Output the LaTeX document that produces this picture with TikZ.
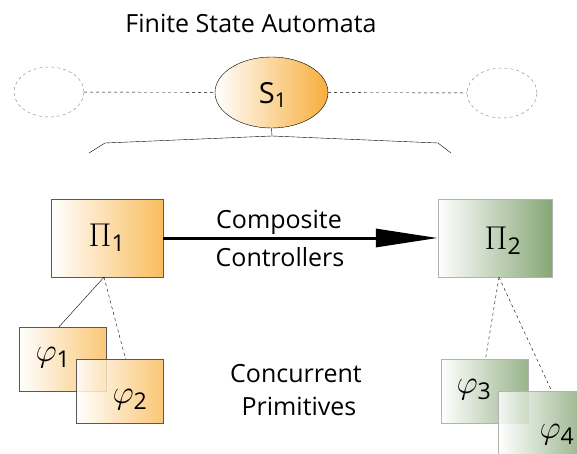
\documentclass[tikz,border=0pt]{standalone}
\usepackage{fix-cm}
\usepackage{fontspec}
\setmainfont{Open Sans}
\usetikzlibrary{arrows.meta,shapes.geometric,positioning}

\definecolor{fsaorange}{HTML}{F7AE3C}
\definecolor{boxorange}{HTML}{F9BD5E}
\definecolor{fsagreen}{HTML}{86A776}

\begin{document}
\begin{tikzpicture}[
  x=1pt, y=-1pt,
  font=\fontsize{25}{29}\selectfont,
  state/.style={draw, ellipse, thin, minimum width=113pt, minimum height=71pt, left color=white, right color=fsaorange},
  ghost/.style={draw=gray, dashed, ellipse, thin, minimum width=70pt, minimum height=50pt},
  ctrlorange/.style={draw=gray!70!black, thin, minimum width=112pt, minimum height=78pt, left color=white, right color=boxorange},
  ctrlgreen/.style={draw=gray!60, thin, minimum width=114pt, minimum height=78pt, left color=white, right color=fsagreen},
  primorange/.style={draw=gray!70!black, thin, minimum width=87pt, minimum height=64pt, left color=white, right color=boxorange, fill opacity=0.85},
  primgreen/.style={draw=gray!60, thin, minimum width=87pt, minimum height=64pt, left color=white, right color=fsagreen, fill opacity=0.85},
  sym/.style={font=\fontsize{29}{30}\selectfont},
  msym/.style={font=\fontsize{33}{34}\selectfont},
  word/.style={anchor=base},
  link/.style={thin},
  dlink/.style={thin, dashed}
]
\useasboundingbox (0,0) rectangle (577,454);

% automaton layer
\node[word] (title) at (251,33) {Finite State Automata};
\node[state] (s1) at (271.5,92.5) {};
\node[sym] (s1t) at (273,95) {S\textsubscript{1}};
\node[ghost] (sl) at (49,92) {};
\node[ghost] (sr) at (502,93) {};
\draw[dlink] (sl) -- (s1);
\draw[dlink] (s1) -- (sr);

% bracket under the state
\coordinate (bktop) at (272,136);
\draw[link] (s1.south) -- (bktop);
\draw[link] (89,153) -- (105,143) -- (bktop) -- (438,143) -- (451,153);

% composite controllers
\node[ctrlorange] (pi1) at (107,238) {};
\node[ctrlgreen] (pi2) at (495,238) {};
\node[msym] (pi1t) at (107,238) {$\Pi$\textsubscript{1}};
\node[msym] (pi2t) at (503,241) {$\Pi$\textsubscript{2}};
\draw[line width=3pt, -{Triangle[length=62pt,width=18pt]}] (pi1.east) -- (pi2.west);
\node[word] (comp) at (279,228) {Composite};
\node[word] (ctrl) at (280,266) {Controllers};

% concurrent primitives
\node[primorange] (ph1) at (63,359) {};
\node[primorange] (ph2) at (119.5,391) {};
\node[primgreen] (ph3) at (484.5,391) {};
\node[primgreen] (ph4) at (541.5,423) {};
\node[msym] (ph1t) at (53,358) {$\varphi$\textsubscript{1}};
\node[msym] (ph2t) at (130,400) {$\varphi$\textsubscript{2}};
\node[msym] (ph3t) at (474,390) {$\varphi$\textsubscript{3}};
\node[msym] (ph4t) at (557,435) {$\varphi$\textsubscript{4}};

\draw[link] ([xshift=-3pt]pi1.south) -- ([xshift=-4pt]ph1.north);
\draw[dlink] ([xshift=-3pt]pi1.south) -- ([xshift=6pt]ph2.north);
\draw[dlink] ([xshift=4pt]pi2.south) -- ([xshift=1pt]ph3.north);
\draw[dlink] ([xshift=4pt]pi2.south) -- ([xshift=10pt]ph4.north);

\node[word] (conc) at (296,382) {Concurrent};
\node[word] (prim) at (299,415) {Primitives};
\end{tikzpicture}
\end{document}
